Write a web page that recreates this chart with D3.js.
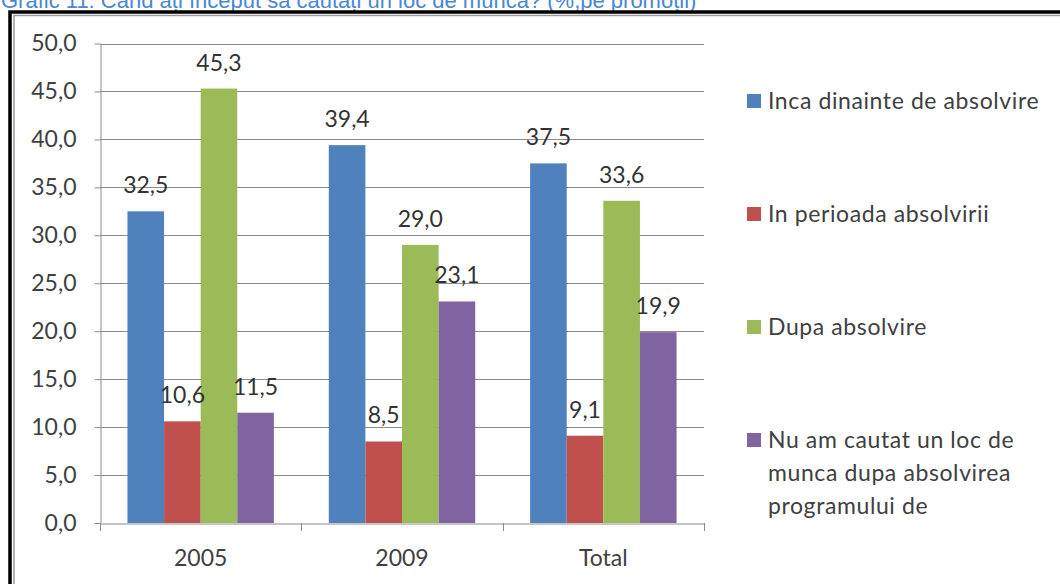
<!DOCTYPE html>
<html>
<head>
<meta charset="utf-8">
<script src="https://cdn.jsdelivr.net/npm/d3@7"></script>
<style>
  html, body { margin: 0; padding: 0; background: #fff; }
  svg { display: block; }
</style>
</head>
<body>
<div id="chart"></div>
<script>
// chart data
const categories = ["2005", "2009", "Total"];
const seriesNames = [
  "Inca dinainte de absolvire",
  "In perioada absolvirii",
  "Dupa absolvire",
  "Nu am cautat un loc de munca dupa absolvirea programului de"
];
const seriesColors = ["#4f81bd", "#c0504d", "#9bbb59", "#8064a2"];
const incaDinainte = [32.5, 39.4, 37.5];
const inPerioada = [10.6, 8.5, 9.1];
const dupaAbsolvire = [45.3, 29.0, 33.6];
const nuAmCautat = [11.5, 23.1, 19.9];
const yTicks = [0, 5, 10, 15, 20, 25, 30, 35, 40, 45, 50];
const titleText = "Grafic 11: Când ați început să căutați un loc de muncă? (%,pe promoții)";

const W = 1060, H = 584;
const plot = {left: 100, right: 704, top: 43.5, bottom: 523};
const font = "Lato, 'Open Sans', sans-serif";
const fs = 23;

const seriesValues = [incaDinainte, inPerioada, dupaAbsolvire, nuAmCautat];
const rows = [];
categories.forEach((c, ci) => {
  seriesNames.forEach((s, si) => {
    rows.push({cat: c, series: s, idx: si, value: seriesValues[si][ci]});
  });
});

const fmt = v => v.toFixed(1).replace(".", ",");

const svg = d3.select("#chart").append("svg")
  .attr("width", W)
  .attr("height", H);

// title (clipped at the top, as in the scan)
svg.append("text")
  .attr("x", 1)
  .attr("y", 8)
  .attr("font-family", "'Liberation Sans', Arial, sans-serif")
  .attr("font-size", 22)
  .attr("fill", "#4a87d4")
  .text(titleText);

// frame
svg.append("rect")
  .attr("x", 10).attr("y", 12)
  .attr("width", 1100).attr("height", 700)
  .attr("fill", "#fff")
  .attr("stroke", "#000")
  .attr("stroke-width", 3.5);
svg.append("path")
  .attr("d", "M14,700 V15.5 H1060")
  .attr("fill", "none")
  .attr("stroke", "#9a9a9a")
  .attr("stroke-width", 1.5);

const y = d3.scaleLinear()
  .domain([0, 50])
  .range([plot.bottom, plot.top]);

const x0 = d3.scaleBand()
  .domain(categories)
  .range([plot.left, plot.right]);

const x1 = d3.scaleBand()
  .domain(seriesNames)
  .range([0, x0.bandwidth()])
  .paddingOuter(0.75);

const g = svg.append("g");

// gridlines
g.append("g")
  .selectAll("line")
  .data(yTicks.slice(1))
  .enter()
  .append("line")
    .attr("x1", plot.left)
    .attr("x2", plot.right)
    .attr("y1", d => Math.round(y(d)) + 0.5)
    .attr("y2", d => Math.round(y(d)) + 0.5)
    .attr("stroke", "#8c8c8c")
    .attr("stroke-width", 1);

// y axis
const yAxis = g.append("g")
  .attr("transform", `translate(${plot.left + 0.5},0)`)
  .call(d3.axisLeft(y).tickValues(yTicks).tickFormat(fmt).tickSize(6).tickSizeOuter(0).tickPadding(18));
yAxis.select(".domain").attr("stroke", "#8c8c8c");
yAxis.selectAll(".tick line").attr("stroke", "#8c8c8c");
yAxis.selectAll("text")
  .attr("font-family", font)
  .attr("font-size", fs)
  .attr("fill", "#404040");

// bars
g.append("g")
  .selectAll("rect")
  .data(rows)
  .enter()
  .append("rect")
    .attr("x", d => x0(d.cat) + x1(d.series))
    .attr("y", d => y(d.value))
    .attr("width", x1.bandwidth())
    .attr("height", d => y(0) - y(d.value))
    .attr("fill", d => seriesColors[d.idx]);

// x axis
const xAxis = g.append("g")
  .attr("transform", `translate(0,${Math.round(plot.bottom) + 0.5})`)
  .call(d3.axisBottom(x0).tickSize(0).tickPadding(26));
xAxis.select(".domain").attr("stroke", "#8c8c8c");
xAxis.selectAll("text")
  .attr("font-family", font)
  .attr("font-size", fs)
  .attr("fill", "#404040");
// category boundary ticks
g.append("g")
  .selectAll("line")
  .data(categories.concat([null]))
  .enter()
  .append("line")
    .attr("x1", d => Math.round(d === null ? plot.right : x0(d)) + 0.5)
    .attr("x2", d => Math.round(d === null ? plot.right : x0(d)) + 0.5)
    .attr("y1", Math.round(plot.bottom))
    .attr("y2", Math.round(plot.bottom) + 8)
    .attr("stroke", "#8c8c8c");

// value labels
g.append("g")
  .selectAll("text")
  .data(rows)
  .enter()
  .append("text")
    .attr("x", d => x0(d.cat) + x1(d.series) + x1.bandwidth() / 2)
    .attr("y", d => y(d.value) - 18)
    .attr("text-anchor", "middle")
    .attr("font-family", font)
    .attr("font-size", fs)
    .attr("fill", "#333")
    .text(d => fmt(d.value));

// legend
const legendLines = [
  ["Inca dinainte de absolvire"],
  ["In perioada absolvirii"],
  ["Dupa absolvire"],
  ["Nu am cautat un loc de", "munca dupa absolvirea", "programului de"]
];
const legendY = d3.scalePoint()
  .domain(seriesNames)
  .range([101, 440]);

const legend = svg.append("g")
  .selectAll("g")
  .data(seriesNames)
  .enter()
  .append("g")
    .attr("transform", d => `translate(747,${legendY(d)})`);

legend.append("rect")
  .attr("x", 0)
  .attr("y", -7)
  .attr("width", 14)
  .attr("height", 14)
  .attr("fill", (d, i) => seriesColors[i]);

legend.append("text")
  .attr("x", 21)
  .attr("y", 0)
  .attr("font-family", font)
  .attr("font-size", fs)
  .attr("letter-spacing", 0.6)
  .attr("fill", "#404040")
  .selectAll("tspan")
  .data((d, i) => legendLines[i])
  .enter()
  .append("tspan")
    .attr("x", 21)
    .attr("dy", (d, i) => i === 0 ? "0.35em" : "33px")
    .text(d => d);
</script>
</body>
</html>
